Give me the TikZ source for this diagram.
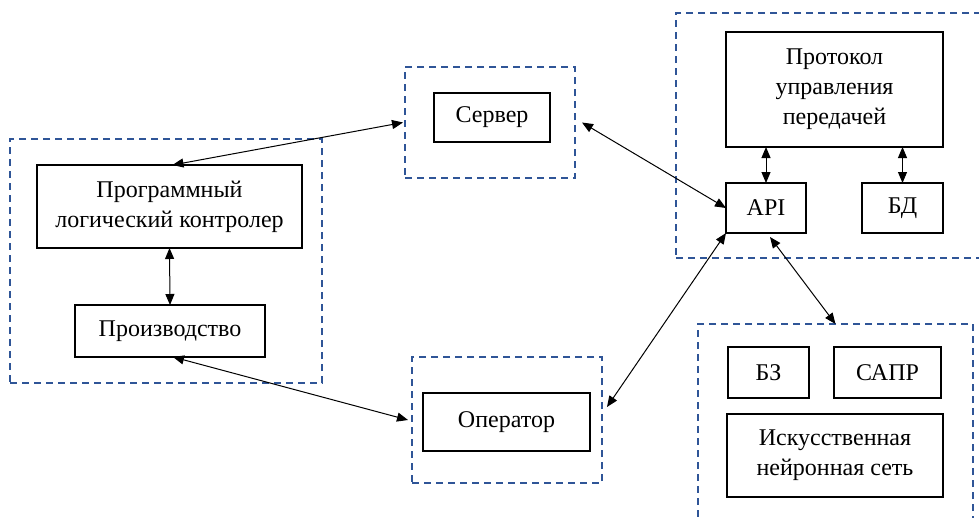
\documentclass[tikz,border=0pt]{standalone}
\usepackage{fontspec}
\setmainfont{Liberation Serif}
\usetikzlibrary{arrows.meta}
\definecolor{grpblue}{RGB}{47,85,151}
\begin{document}
\begin{tikzpicture}[
    x=1pt,y=-1pt,
    every node/.style={font=\fontsize{24}{30}\selectfont,align=center,
        inner sep=0pt,outer sep=0pt},
    block/.style={draw,line width=2pt},
    group/.style={draw=grpblue,line width=2pt,dash pattern=on 7pt off 5pt},
    link/.style={line width=1pt,
        {Triangle[length=11pt,width=9pt]}-{Triangle[length=11pt,width=9pt]}}]
    \useasboundingbox (0,0) rectangle (979,517);
    \clip (0,0) rectangle (979,517);
    % dashed groups
    \node[group,minimum width=312,minimum height=244] (plcgrp) at (166,261) {};
    \node[group,minimum width=170,minimum height=111] (srvgrp) at (490,122.5) {};
    \node[group,minimum width=190,minimum height=126] (opgrp) at (507,420) {};
    \node[group,minimum width=324,minimum height=245] (apigrp) at (838,135.5) {};
    \node[group,minimum width=275,minimum height=236] (aigrp) at (835.5,442) {};
    % blocks
    \node[block,minimum width=265,minimum height=83] (plc) at (169.5,206.5)
        {Программный\\логический контролер};
    \node[block,minimum width=190,minimum height=52] (prod) at (170,331) {Производство};
    \node[block,minimum width=116,minimum height=49] (srv) at (492,117.5) {Сервер};
    \node[block,minimum width=167,minimum height=58] (op) at (506.5,422) {Оператор};
    \node[block,minimum width=217,minimum height=115] (proto) at (834.5,89.5)
        {Протокол\\управления\\передачей};
    \node[block,minimum width=80,minimum height=50] (api) at (766,208) {API};
    \node[block,minimum width=81,minimum height=50] (db) at (902.5,208) {БД};
    \node[block,minimum width=81,minimum height=51] (kb) at (768.5,372.5) {БЗ};
    \node[block,minimum width=107,minimum height=51] (cad) at (887.5,372.5) {САПР};
    \node[block,minimum width=216,minimum height=83] (ann) at (835,455.5)
        {Искусственная\\нейронная сеть};
    % connections
    \draw[link] (plc.south) -- (prod.north);
    \draw[link] ([xshift=3pt]plc.north) -- ([xshift=-2pt]srvgrp.west);
    \draw[link] ([xshift=7pt]srvgrp.east) -- (api.west);
    \draw[link] ([xshift=3pt]prod.south) -- ([xshift=-4pt]opgrp.west);
    \draw[link] ([xshift=5pt,yshift=13pt]opgrp.east) -- (api.south west);
    \draw[link] ([xshift=4pt,yshift=-4pt]api.south) -- (aigrp.north);
    \draw[link] (api.north) -- (api.north|-proto.south);
    \draw[link] (db.north) -- (db.north|-proto.south);
\end{tikzpicture}
\end{document}
